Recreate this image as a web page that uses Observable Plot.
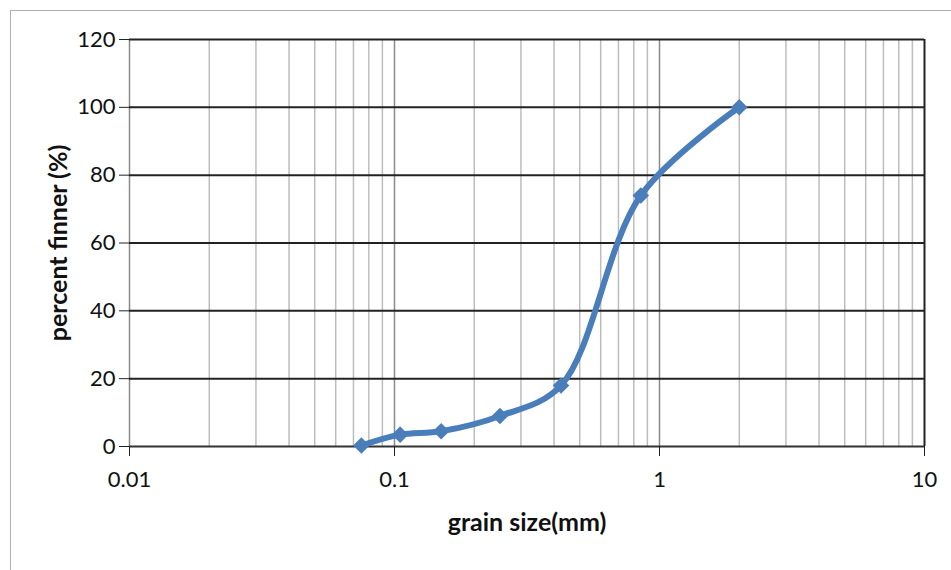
<!DOCTYPE html>
<html>
<head>
<meta charset="utf-8">
<script src="https://cdn.jsdelivr.net/npm/d3@7"></script>
<script src="https://cdn.jsdelivr.net/npm/@observablehq/plot@0.6"></script>
<style>
  html, body { margin: 0; padding: 0; background: #fff; }
  #wrap { position: relative; width: 951px; height: 570px; overflow: hidden; }
  #border { position: absolute; left: 10px; top: 10px; width: 1000px; height: 1000px; border: 1.5px solid #b0b0b0; box-sizing: border-box; }
  #chart { position: absolute; left: 0; top: 0; }
</style>
</head>
<body>
<div id="wrap"><div id="border"></div><div id="chart"></div></div>
<script>
// Data
const grainSize = [0.075, 0.105, 0.15, 0.25, 0.425, 0.85, 2];
const percentFiner = [0.3, 3.5, 4.5, 9, 18, 74, 100];
const xTicks = [0.01, 0.1, 1, 10];
const yTicks = [0, 20, 40, 60, 80, 100, 120];
const xTitle = "grain size(mm)";
const yTitle = "percent finner (%)";

const data = grainSize.map((g, i) => ({size: g, pct: percentFiner[i]}));
const minor = [];
for (const d of [0.01, 0.1, 1]) for (let k = 2; k <= 9; k++) minor.push(+(d * k).toPrecision(3));

const font = "Lato, 'Open Sans', sans-serif";
const blue = "#4a7ebb";

const chart = Plot.plot({
  width: 951,
  height: 570,
  marginLeft: 129,
  marginRight: 27,
  marginTop: 39,
  marginBottom: 124,
  style: {fontFamily: font, fontSize: "22px", color: "#111", background: "transparent"},
  x: {type: "log", domain: [0.01, 10]},
  y: {domain: [0, 120]},
  marks: [
    Plot.ruleX(minor, {stroke: "#bdbdbd", strokeWidth: 1.5}),
    Plot.ruleX([0.01, 0.1, 1], {stroke: "#8a8a8a", strokeWidth: 1.5}),
    Plot.ruleX([10], {stroke: "#222", strokeWidth: 2}),
    Plot.ruleY(yTicks.filter(v => v > 0), {stroke: "#222", strokeWidth: 2}),
    Plot.ruleY([0], {stroke: "#333", strokeWidth: 2}),
    Plot.axisX({ticks: xTicks, tickFormat: d => String(d), tickSize: 10, tickPadding: 15, label: null, stroke: "#222", fontSize: 22}),
    Plot.axisY({ticks: yTicks, tickSize: 10, tickPadding: 4, label: null, stroke: "#222", fontSize: 22}),
    Plot.line(data, {x: "size", y: "pct", stroke: blue, strokeWidth: 6, curve: "catmull-rom"}),
    Plot.dot(data, {x: "size", y: "pct", symbol: "square", r: 6.6, rotate: 45, fill: blue, stroke: "none"}),
    Plot.text([xTitle], {frameAnchor: "bottom", dy: 84, fontWeight: "bold", fontSize: 25, fill: "#111", textAnchor: "middle"}),
    Plot.text([yTitle], {frameAnchor: "left", dx: -71, rotate: -90, fontWeight: "bold", fontSize: 25, fill: "#111", textAnchor: "middle"})
  ]
});
document.getElementById("chart").appendChild(chart);
</script>
</body>
</html>
